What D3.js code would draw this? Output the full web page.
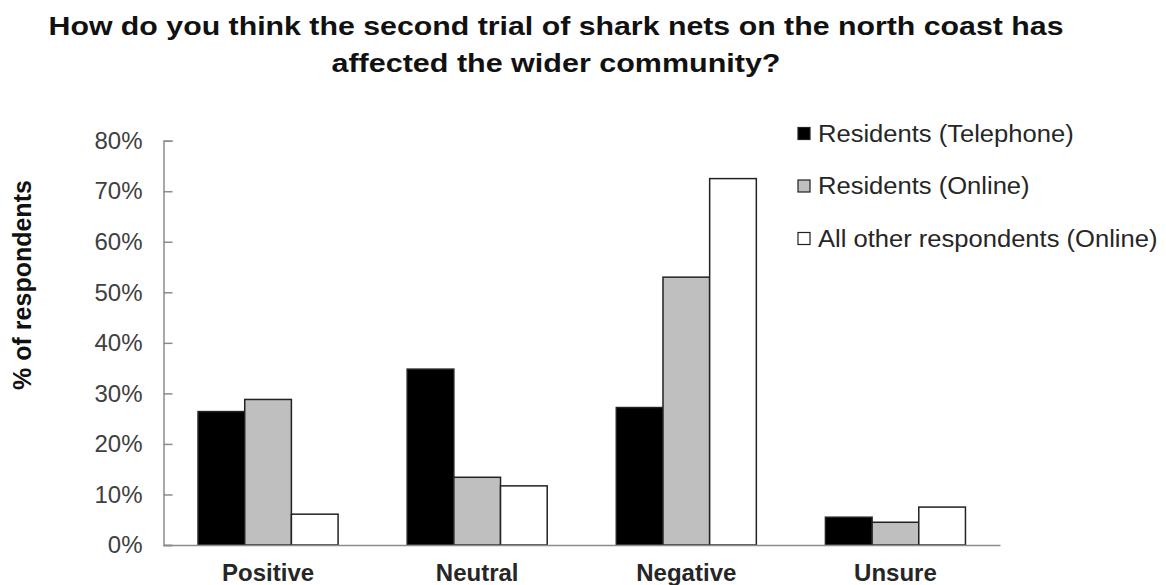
<!DOCTYPE html>
<html>
<head>
<meta charset="utf-8">
<script src="https://cdn.jsdelivr.net/npm/d3@7"></script>
<style>
  html, body { margin: 0; padding: 0; background: #fff; }
  svg { display: block; font-family: "Liberation Sans", Arial, sans-serif; }
</style>
</head>
<body>
<svg id="chart" width="1166" height="585"></svg>
<script>
// Survey responses by group
const categories = ["Positive", "Neutral", "Negative", "Unsure"];
const seriesNames = ["Residents (Telephone)", "Residents (Online)", "All other respondents (Online)"];
const telephoneResidents = [0.264, 0.348, 0.272, 0.055];
const onlineResidents = [0.288, 0.134, 0.530, 0.045];
const otherRespondents = [0.061, 0.117, 0.725, 0.075];
const yTicks = [0, 0.1, 0.2, 0.3, 0.4, 0.5, 0.6, 0.7, 0.8];
const titleLines = [
  "How do you  think the second trial of shark nets on the north coast has",
  "affected the wider community?"
];
const yAxisTitle = "% of respondents";

const seriesValues = [telephoneResidents, onlineResidents, otherRespondents];
const fills = ["#000000", "#bfbfbf", "#ffffff"];

const svg = d3.select("#chart");

const plot = { left: 163.5, right: 1000, top: 140.7, bottom: 545 };

const x0 = d3.scaleBand().domain(categories).range([plot.left, plot.right]).padding(0);
const x1 = d3.scaleBand().domain(d3.range(seriesNames.length))
  .range([0, x0.bandwidth()]).paddingInner(0).paddingOuter(0.74);
const y = d3.scaleLinear().domain([0, 0.8]).range([plot.bottom, plot.top]);

// Title
svg.append("g").selectAll("text")
  .data(titleLines)
  .join("text")
  .attr("x", 556)
  .attr("y", (d, i) => i === 0 ? 35 : 71.5)
  .attr("text-anchor", "middle")
  .attr("font-size", 26)
  .attr("font-weight", "bold")
  .attr("fill", "#111")
  .attr("textLength", (d, i) => i === 0 ? 1015 : 449)
  .attr("lengthAdjust", "spacingAndGlyphs")
  .text(d => d);

// Bars
const groups = svg.append("g").selectAll("g")
  .data(categories)
  .join("g")
  .attr("transform", d => `translate(${x0(d)},0)`);

groups.selectAll("rect")
  .data((c, ci) => seriesValues.map((vals, si) => ({ si, v: vals[ci] })))
  .join("rect")
  .attr("x", d => x1(d.si))
  .attr("y", d => y(d.v))
  .attr("width", x1.bandwidth())
  .attr("height", d => y(0) - y(d.v))
  .attr("fill", d => fills[d.si])
  .attr("stroke", "#222")
  .attr("stroke-width", 1.5);

// Y axis
const yAxis = d3.axisRight(y)
  .tickValues(yTicks)
  .tickSize(9)
  .tickFormat(d3.format(".0%"));

const yg = svg.append("g")
  .attr("transform", `translate(${plot.left},0)`)
  .call(yAxis);
yg.select(".domain").attr("stroke", "#8c8c8c").attr("stroke-width", 1.5);
yg.selectAll(".tick line").attr("stroke", "#8c8c8c").attr("stroke-width", 1.5);
yg.selectAll(".tick text")
  .attr("x", -21)
  .attr("text-anchor", "end")
  .attr("font-size", 24)
  .attr("font-family", "Liberation Sans, Arial, sans-serif")
  .attr("fill", "#404040");

// X axis baseline
const xAxis = d3.axisBottom(x0).tickSize(0).tickFormat("");
const xg = svg.append("g")
  .attr("transform", `translate(0,${plot.bottom})`)
  .call(xAxis);
xg.select(".domain").attr("stroke", "#8c8c8c").attr("stroke-width", 1.5);

// Category labels
svg.append("g").selectAll("text")
  .data(categories)
  .join("text")
  .attr("x", d => x0(d) + x0.bandwidth() / 2)
  .attr("y", 581)
  .attr("text-anchor", "middle")
  .attr("font-size", 24)
  .attr("font-weight", "bold")
  .attr("fill", "#262626")
  .text(d => d);

// Y axis title
svg.append("text")
  .attr("transform", "translate(31,285) rotate(-90)")
  .attr("text-anchor", "middle")
  .attr("font-size", 25)
  .attr("font-weight", "bold")
  .attr("fill", "#111")
  .text(yAxisTitle);

// Legend
const legend = svg.append("g").selectAll("g")
  .data(seriesNames)
  .join("g")
  .attr("transform", (d, i) => `translate(798,${133.5 + i * 52.5})`);

legend.append("rect")
  .attr("x", 0)
  .attr("y", -6)
  .attr("width", 12)
  .attr("height", 12)
  .attr("fill", (d, i) => fills[i])
  .attr("stroke", "#222")
  .attr("stroke-width", 1.2);

legend.append("text")
  .attr("transform", "translate(20,0) scale(1.065,1)")
  .attr("dy", "0.35em")
  .attr("font-size", 24)
  .attr("fill", "#262626")
  .text(d => d);
</script>
</body>
</html>
